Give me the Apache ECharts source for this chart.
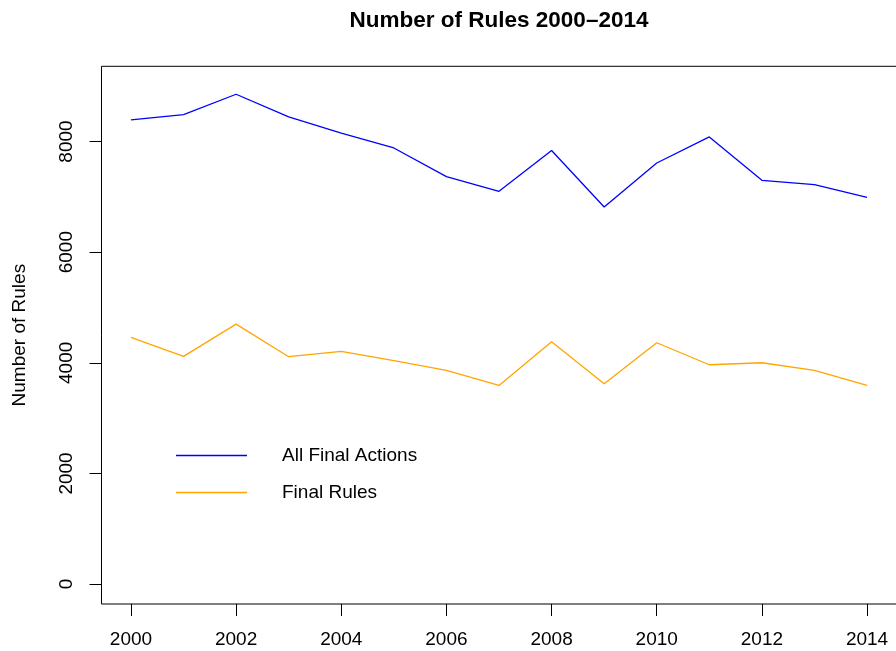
<!DOCTYPE html>
<html>
<head>
    <meta charset="utf-8">
    <title>Number of Rules</title>
    <script src="https://cdn.jsdelivr.net/npm/echarts@6/dist/echarts.min.js"></script>
</head>
<body style="margin:0;">
<div id="main" style="width: 896px;height:651px;"></div>
<script type="text/javascript">
    var years = [2000, 2001, 2002, 2003, 2004, 2005, 2006, 2007, 2008, 2009, 2010, 2011, 2012, 2013, 2014];
    var allFinalActions = [8390, 8488, 8855, 8445, 8150, 7884, 7366, 7100, 7837, 6816, 7612, 8083, 7299, 7222, 6992];
    var finalRules = [4459, 4116, 4700, 4110, 4206, 4038, 3862, 3591, 4381, 3621, 4363, 3965, 4001, 3862, 3591];
    var xTicks = [2000, 2002, 2004, 2006, 2008, 2010, 2012, 2014];
    var yTicks = [0, 2000, 4000, 6000, 8000];

    var font = "'Liberation Sans', Arial, sans-serif";

    function pairs(vals) {
        return years.map(function (y, i) { return [y, vals[i]]; });
    }
    function plain(v) { return String(v); }

    var myChart = echarts.init(document.getElementById('main'));
    var option = {
        animation: false,
        backgroundColor: '#fff',
        textStyle: { fontFamily: font, color: '#000' },
        graphic: [{
            type: 'text',
            x: 499,
            y: 21,
            style: {
                text: 'Number of Rules 2000\u20132014',
                font: 'bold 22.5px ' + font,
                fill: '#000',
                textAlign: 'center',
                textVerticalAlign: 'middle'
            }
        }],
        legend: {
            orient: 'vertical',
            left: 171,
            top: 441,
            itemWidth: 71,
            itemHeight: 1.5,
            itemGap: 18,
            icon: 'rect',
            textStyle: { fontSize: 19, lineHeight: 19, color: '#000', fontFamily: font, padding: [0, 0, 0, 30] },
            data: ['All Final Actions', 'Final Rules']
        },
        grid: {
            left: 101.5,
            right: -0.5,
            top: 66.3,
            bottom: 47,
            show: true,
            borderColor: '#000',
            borderWidth: 1,
            containLabel: false,
            outerBoundsMode: 'none'
        },
        xAxis: {
            type: 'value',
            min: 1999.44,
            max: 2014.56,
            axisLine: { show: false, onZero: false },
            axisTick: { show: true, length: 12, customValues: xTicks, lineStyle: { color: '#000' } },
            axisLabel: { customValues: xTicks, formatter: plain, fontSize: 19, color: '#000', margin: 26, fontFamily: font },
            splitLine: { show: false }
        },
        yAxis: {
            type: 'value',
            min: -360,
            max: 9360,
            name: 'Number of Rules',
            nameLocation: 'middle',
            nameRotate: 90,
            nameGap: 72,
            nameTextStyle: { fontSize: 19, color: '#000', fontFamily: font },
            axisLine: { show: false, onZero: false },
            axisTick: { show: true, length: 12, customValues: yTicks, lineStyle: { color: '#000' } },
            axisLabel: { customValues: yTicks, formatter: plain, rotate: 90, fontSize: 19, color: '#000', margin: 25, fontFamily: font },
            splitLine: { show: false }
        },
        series: [{
            name: 'All Final Actions',
            type: 'line',
            showSymbol: false,
            symbol: 'none',
            color: '#0000FF',
            lineStyle: { width: 1.3, color: '#0000FF' },
            data: pairs(allFinalActions)
        }, {
            name: 'Final Rules',
            type: 'line',
            showSymbol: false,
            symbol: 'none',
            color: '#FFA500',
            lineStyle: { width: 1.3, color: '#FFA500' },
            data: pairs(finalRules)
        }]
    };
    myChart.setOption(option);
</script>
</body>
</html>
